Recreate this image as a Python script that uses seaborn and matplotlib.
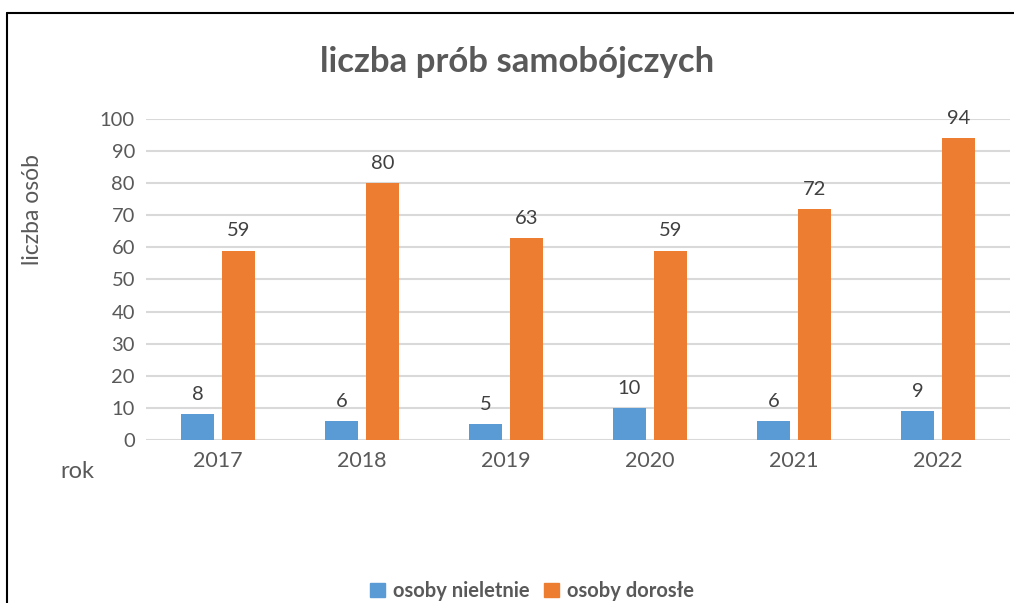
import pandas as pd
import matplotlib.pyplot as plt
import seaborn as sns
from matplotlib.lines import Line2D
from matplotlib.patches import Patch

# Dane
lata = ["2017", "2018", "2019", "2020", "2021", "2022"]
nieletnie = [8, 6, 5, 10, 6, 9]
dorosle = [59, 80, 63, 59, 72, 94]
serie = ["osoby nieletnie", "osoby dorosłe"]
kolory = ["#5B9BD5", "#ED7D31"]

df = pd.DataFrame({
    "rok": lata * 2,
    "liczba": nieletnie + dorosle,
    "grupa": [serie[0]] * len(lata) + [serie[1]] * len(lata),
})

sns.set_theme(style="white")
plt.rcParams["font.family"] = ["Lato", "DejaVu Sans"]
szary = "#595959"

fig = plt.figure(figsize=(10.14, 6.03), dpi=100)
ax = fig.add_axes([0.144, 0.270, 0.852, 0.533])

sns.barplot(data=df, x="rok", y="liczba", hue="grupa", palette=kolory,
            saturation=1, linewidth=0, width=0.57, gap=0.19, ax=ax, legend=False)

for cont in ax.containers:
    ax.bar_label(cont, padding=8, fontsize=14.5, color="#404040")

ax.set_ylim(0, 100)
ax.set_xlim(-0.5, 5.5)
ax.set_yticks(range(0, 101, 10))
ax.yaxis.grid(True, color="#D9D9D9", linewidth=1.5)
ax.set_axisbelow(True)
sns.despine(ax=ax, left=True, bottom=True)
ax.tick_params(axis="both", labelsize=14.5, colors=szary, length=0, pad=8)
ax.tick_params(axis="x", labelsize=15.5)
ax.set_xlabel("")
ax.set_ylabel("")

fig.text(0.51, 0.897, "liczba prób samobójczych", ha="center", va="center",
         fontsize=25, fontweight="bold", color=szary)
fig.text(0.032, 0.652, "liczba osób", rotation=90, ha="center", va="center",
         fontsize=16.5, color=szary)
fig.text(0.076, 0.218, "rok", ha="center", va="center", fontsize=17, color=szary)

uchwyty = [Patch(color=k) for k in kolory]
ax.legend(uchwyty, serie, loc="center", bbox_to_anchor=(0.525, 0.02),
          bbox_transform=fig.transFigure, ncol=2, frameon=False,
          prop={"weight": "bold", "size": 14.5}, labelcolor=szary,
          handlelength=0.75, handleheight=0.75, handletextpad=0.4, columnspacing=0.7)

# ramka
fig.add_artist(Line2D([0.007, 1.0], [0.979, 0.979], color="black", linewidth=1.5,
                      transform=fig.transFigure))
fig.add_artist(Line2D([0.007, 0.007], [0.0, 0.979], color="black", linewidth=1.5,
                      transform=fig.transFigure))

fig.savefig("out.png", dpi=100)
